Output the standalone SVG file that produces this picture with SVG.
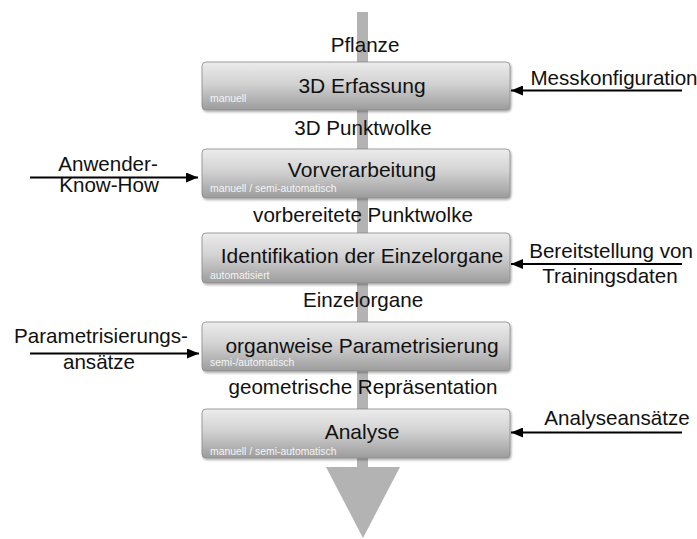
<svg xmlns="http://www.w3.org/2000/svg" width="697" height="539" viewBox="0 0 697 539">
<defs>
<linearGradient id="g" x1="0" y1="0" x2="0" y2="1">
<stop offset="0" stop-color="#ececec"/>
<stop offset="0.45" stop-color="#d2d2d2"/>
<stop offset="1" stop-color="#9c9c9c"/>
</linearGradient>
<filter id="sh" x="-5%" y="-20%" width="110%" height="150%">
<feDropShadow dx="1" dy="1.5" stdDeviation="1" flood-color="#000" flood-opacity="0.35"/>
</filter>
<marker id="ah" markerWidth="12" markerHeight="10" refX="12" refY="5" orient="auto" markerUnits="userSpaceOnUse">
<path d="M0,0 L12,5 L0,10 Z" fill="#000"/>
</marker>
</defs>
<style>
.box{fill:url(#g);stroke:#8c8c8c;stroke-width:0.8;filter:url(#sh)}
.t{font-family:"Liberation Sans",Arial,sans-serif;font-size:20.6px;fill:#111;text-anchor:middle}
.bt{font-family:"Liberation Sans",Arial,sans-serif;font-size:21px;fill:#111;text-anchor:middle}
.s{font-family:"Liberation Sans",Arial,sans-serif;font-size:10.4px;fill:#f4f4f4}
.c{stroke:#000;stroke-width:2;fill:none;marker-end:url(#ah)}
</style>
<g id="flow">
<rect x="357" y="12" width="11" height="458" fill="#b3b3b3"/>
<path d="M326,467 L400,467 L363,538 Z" fill="#b3b3b3"/>
</g>
<g id="labels">
<text class="t" x="365" y="52">Pflanze</text>
<text class="t" x="363" y="135">3D Punktwolke</text>
<text class="t" x="363" y="222">vorbereitete Punktwolke</text>
<text class="t" x="363" y="307">Einzelorgane</text>
<text class="t" x="363" y="394">geometrische Repräsentation</text>
</g>
<g id="n1">
<rect class="box" x="202" y="62" width="308" height="48" rx="4"/>
<text class="bt" x="362" y="93">3D Erfassung</text>
<text class="s" x="210" y="102">manuell</text>
</g>
<g id="n2">
<rect class="box" x="202" y="149" width="308" height="49" rx="4"/>
<text class="bt" x="362" y="177">Vorverarbeitung</text>
<text class="s" x="210" y="192">manuell / semi-automatisch</text>
</g>
<g id="n3">
<rect class="box" x="202" y="233" width="308" height="50" rx="4"/>
<text class="bt" x="362" y="263">Identifikation der Einzelorgane</text>
<text class="s" x="210" y="279">automatisiert</text>
</g>
<g id="n4">
<rect class="box" x="202" y="322" width="308" height="49" rx="4"/>
<text class="bt" x="362" y="353">organweise Parametrisierung</text>
<text class="s" x="210" y="366">semi-/automatisch</text>
</g>
<g id="n5">
<rect class="box" x="202" y="409" width="308" height="49" rx="4"/>
<text class="bt" x="362" y="439">Analyse</text>
<text class="s" x="210" y="455">manuell / semi-automatisch</text>
</g>
<g id="connectors">
<line class="c" x1="30" y1="177.5" x2="198" y2="177.5"/>
<line class="c" x1="30" y1="353.5" x2="199" y2="353.5"/>
<line class="c" x1="682" y1="90.5" x2="511" y2="90.5"/>
<line class="c" x1="682" y1="264" x2="511" y2="264"/>
<line class="c" x1="682" y1="432.5" x2="511" y2="432.5"/>
</g>
<g id="inputs">
<text class="t" x="108" y="171">Anwender-</text>
<text class="t" x="109" y="192">Know-How</text>
<text class="t" x="101" y="343">Parametrisierungs-</text>
<text class="t" x="99" y="369">ansätze</text>
<text class="t" x="614" y="85">Messkonfiguration</text>
<text class="t" x="611" y="258">Bereitstellung von</text>
<text class="t" x="610" y="283">Trainingsdaten</text>
<text class="t" x="617" y="425">Analyseansätze</text>
</g>
</svg>
